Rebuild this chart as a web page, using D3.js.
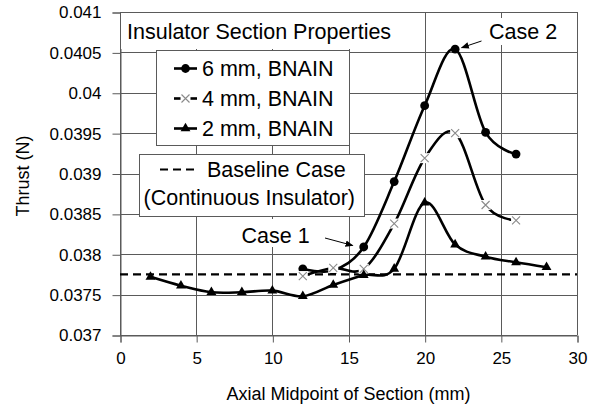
<!DOCTYPE html>
<html><head><meta charset="utf-8">
<script src="https://cdn.jsdelivr.net/npm/d3@7"></script>
<style>
body{margin:0;background:#fff}
svg{display:block}
text{font-family:"Liberation Sans",Arial,sans-serif;fill:#000}
</style>
</head><body>
<svg id="chart" width="596" height="409"></svg>
<script>
// Thrust vs. axial midpoint of the insulator section, three thicknesses
const xPos6 = [12, 14, 16, 18, 20, 22, 24, 26];
const thrust6 = [0.03782, 0.03780, 0.03809, 0.03890, 0.03984, 0.04054, 0.03951, 0.03924];
const xPos4 = [12, 14, 16, 18, 20, 22, 24, 26];
const thrust4 = [0.03773, 0.03783, 0.03782, 0.03838, 0.03919, 0.03950, 0.03861, 0.03842];
const xPos2 = [2, 4, 6, 8, 10, 12, 14, 16, 18, 20, 22, 24, 26, 28];
const thrust2 = [0.03772, 0.03761, 0.03753, 0.03753, 0.03755, 0.03748, 0.03762, 0.03774, 0.03782, 0.03864, 0.03812, 0.03797, 0.03790, 0.03784];
const baselineThrust = 0.03775;

const xTicks = [0, 5, 10, 15, 20, 25, 30];
const yTicks = [0.037, 0.0375, 0.038, 0.0385, 0.039, 0.0395, 0.04, 0.0405, 0.041];
const yTickLabels = ["0.037", "0.0375", "0.038", "0.0385", "0.039", "0.0395", "0.04", "0.0405", "0.041"];

const seriesNames = ["6 mm, BNAIN", "4 mm, BNAIN", "2 mm, BNAIN"];

const svg = d3.select("#chart");
const plotL = 120, plotR = 577, plotT = 12, plotB = 335;
const x = d3.scaleLinear().domain([0, 30]).range([plotL, plotR]);
const y = d3.scaleLinear().domain([0.037, 0.041]).range([plotB, plotT]);
const gridColor = "#5a5a5a";

// grid
const grid = svg.append("g");
grid.selectAll("line.h").data(yTicks).join("line")
  .attr("x1", plotL).attr("x2", plotR)
  .attr("y1", d => Math.round(y(d)) + 0.5).attr("y2", d => Math.round(y(d)) + 0.5)
  .attr("stroke", gridColor).attr("stroke-width", 1);
grid.selectAll("line.v").data(xTicks).join("line")
  .attr("y1", plotT).attr("y2", plotB)
  .attr("x1", d => Math.round(x(d)) + 0.5).attr("x2", d => Math.round(x(d)) + 0.5)
  .attr("stroke", gridColor).attr("stroke-width", 1);

// axes
const yAxis = d3.axisLeft(y).tickValues(yTicks).tickSize(8).tickPadding(11)
  .tickFormat((d, i) => yTickLabels[i]);
const gy = svg.append("g").attr("transform", `translate(${plotL + 0.5},0.5)`).call(yAxis);
const xAxis = d3.axisBottom(x).tickValues(xTicks).tickSize(7).tickPadding(9)
  .tickFormat(d3.format("d"));
const gx = svg.append("g").attr("transform", `translate(0.5,${plotB + 0.5})`).call(xAxis);
[gx, gy].forEach(g => {
  g.select(".domain").attr("stroke", gridColor);
  g.selectAll(".tick line").attr("stroke", gridColor);
  g.selectAll(".tick text").attr("font-size", 17).attr("font-family", '"Liberation Sans",Arial,sans-serif').attr("fill", "#000");
});

// baseline case
svg.append("line")
  .attr("x1", plotL).attr("x2", plotR)
  .attr("y1", y(baselineThrust)).attr("y2", y(baselineThrust))
  .attr("stroke", "#000").attr("stroke-width", 2.2).attr("stroke-dasharray", "8,5");

// markers
function drawMarker(g, kind, cx, cy) {
  if (kind === "circle") {
    g.append("circle").attr("cx", cx).attr("cy", cy).attr("r", 4.4).attr("fill", "#000");
  } else if (kind === "cross") {
    g.append("rect").attr("x", cx - 5).attr("y", cy - 5).attr("width", 10).attr("height", 10).attr("fill", "#fff");
    g.append("path").attr("d", `M${cx - 4},${cy - 4}L${cx + 4},${cy + 4}M${cx - 4},${cy + 4}L${cx + 4},${cy - 4}`)
      .attr("stroke", "#8a8a8a").attr("stroke-width", 1.1).attr("fill", "none");
  } else {
    g.append("path").attr("d", d3.symbol(d3.symbolTriangle, 42)())
      .attr("transform", `translate(${cx},${cy})`).attr("fill", "#000");
  }
}

const series = [
  {xs: xPos6, ys: thrust6, kind: "circle"},
  {xs: xPos4, ys: thrust4, kind: "cross"},
  {xs: xPos2, ys: thrust2, kind: "triangle"}
];
const line = d3.line().x(d => x(d[0])).y(d => y(d[1])).curve(d3.curveCatmullRom.alpha(0));
series.forEach(s => {
  const g = svg.append("g");
  const pts = s.xs.map((v, i) => [v, s.ys[i]]);
  g.append("path").attr("d", line(pts)).attr("fill", "none")
    .attr("stroke", "#000").attr("stroke-width", 2.6).attr("stroke-linejoin", "round");
  pts.forEach(p => drawMarker(g, s.kind, x(p[0]), y(p[1])));
});

// chart title box
svg.append("rect").attr("x", 121).attr("y", 13).attr("width", 276).attr("height", 36).attr("fill", "#fff");
svg.append("text").attr("x", 127).attr("y", 38.5).attr("font-size", 21.5).text("Insulator Section Properties");

// series legend
const lg = svg.append("g");
lg.append("rect").attr("x", 156.5).attr("y", 50.5).attr("width", 193).attr("height", 95)
  .attr("fill", "#fff").attr("stroke", gridColor).attr("stroke-width", 1);
seriesNames.forEach((name, i) => {
  const cy = 68.5 + i * 30;
  lg.append("line").attr("x1", 174).attr("x2", 197).attr("y1", cy).attr("y2", cy)
    .attr("stroke", "#000").attr("stroke-width", 2.6);
  drawMarker(lg, series[i].kind, 185.5, cy);
  lg.append("text").attr("x", 202).attr("y", cy + 7.7).attr("font-size", 21.5).text(name);
});

// baseline legend
const bg = svg.append("g");
bg.append("rect").attr("x", 139.5).attr("y", 154.5).attr("width", 225).attr("height", 62)
  .attr("fill", "#fff").attr("stroke", gridColor).attr("stroke-width", 1);
bg.append("line").attr("x1", 160).attr("x2", 198).attr("y1", 169.5).attr("y2", 169.5)
  .attr("stroke", "#000").attr("stroke-width", 2.2).attr("stroke-dasharray", "8,5");
bg.append("text").attr("x", 207).attr("y", 177.2).attr("font-size", 21.5).text("Baseline Case");
bg.append("text").attr("x", 143.5).attr("y", 204.5).attr("font-size", 21.5).text("(Continuous Insulator)");

// case annotations
const arrowHead = svg.append("defs").append("marker").attr("id", "ah")
  .attr("viewBox", "0 0 10 10").attr("refX", 9).attr("refY", 5)
  .attr("markerWidth", 8).attr("markerHeight", 8).attr("markerUnits", "userSpaceOnUse")
  .attr("orient", "auto");
arrowHead.append("path").attr("d", "M0,1L10,5L0,9Z").attr("fill", "#000");

const c1x = x(xPos6[2]), c1y = y(thrust6[2]);
svg.append("rect").attr("x", 236).attr("y", 219).attr("width", 86).attr("height", 28).attr("fill", "#fff");
svg.append("text").attr("x", 241.5).attr("y", 242.5).attr("font-size", 21.5).text("Case 1");
svg.append("line").attr("x1", 325).attr("y1", 238).attr("x2", c1x - 11).attr("y2", c1y - 1.5)
  .attr("stroke", "#000").attr("stroke-width", 1).attr("marker-end", "url(#ah)");

const c2x = x(xPos6[5]), c2y = y(thrust6[5]);
svg.append("rect").attr("x", 484).attr("y", 18).attr("width", 80).attr("height", 27).attr("fill", "#fff");
svg.append("text").attr("x", 489).attr("y", 38.5).attr("font-size", 21.5).text("Case 2");
svg.append("line").attr("x1", 481.5).attr("y1", 41).attr("x2", c2x + 6.5).attr("y2", c2y - 1.5)
  .attr("stroke", "#000").attr("stroke-width", 1).attr("marker-end", "url(#ah)");

// axis titles
svg.append("text").attr("x", (plotL + plotR) / 2).attr("y", 400).attr("text-anchor", "middle")
  .attr("font-size", 18).text("Axial Midpoint of Section (mm)");
svg.append("text").attr("transform", `translate(29,176) rotate(-90)`).attr("text-anchor", "middle")
  .attr("font-size", 18).text("Thrust (N)");
</script>
</body></html>
